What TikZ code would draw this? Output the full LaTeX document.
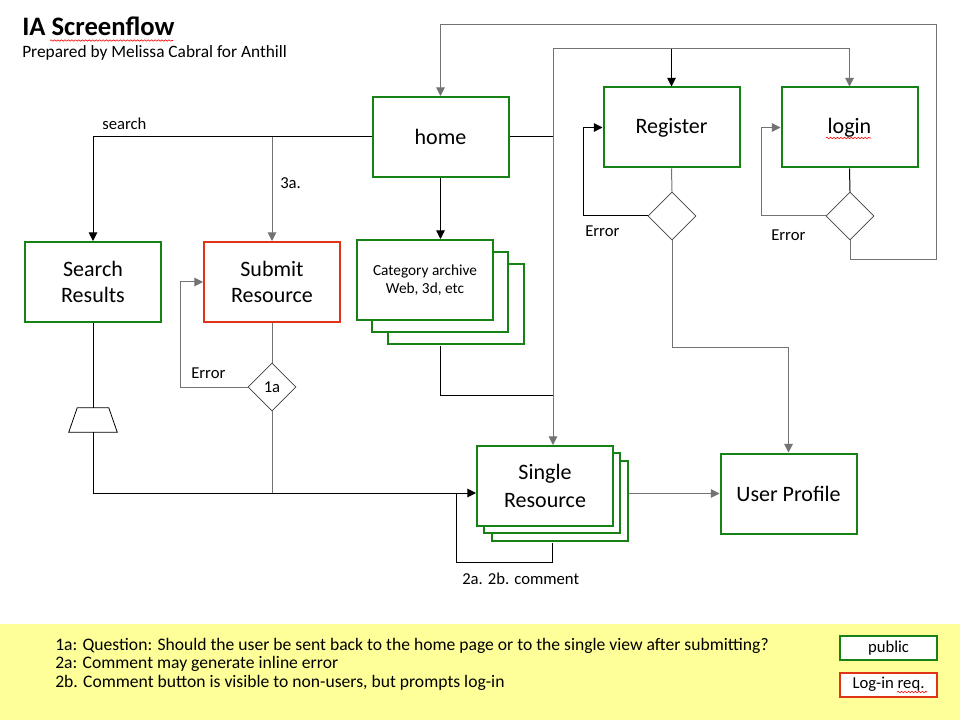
\documentclass[tikz,border=0pt]{standalone}
\usepackage{fontspec}
\setmainfont{Carlito}
\usetikzlibrary{arrows.meta,calc,shapes.geometric,shadows,decorations.pathmorphing}

\definecolor{pagegreen}{RGB}{22,130,22}
\definecolor{loginred}{RGB}{224,52,24}
\definecolor{noteyellow}{RGB}{255,255,153}
\definecolor{linegrey}{RGB}{115,115,115}

\tikzset{
  pagebox/.style={draw=pagegreen, line width=1.5pt, fill=white, minimum width=102pt, minimum height=60pt,
    inner sep=0pt, align=center, font=\fontsize{16.5}{19.5}\selectfont},
  loginbox/.style={pagebox, draw=loginred},
  pagestack/.style 2 args={copy shadow={shadow xshift=2*#1, shadow yshift=-2*#2, opacity=1, fill=white, draw=pagegreen, line width=1.5pt},
    copy shadow={shadow xshift=#1, shadow yshift=-#2, opacity=1, fill=white, draw=pagegreen, line width=1.5pt}},
  decision/.style={diamond, draw=black!75, line width=0.6pt, fill=white, minimum size=36pt, aspect=1, inner sep=0pt,
    font=\fontsize{12.5}{14}\selectfont},
  funnel/.style={minimum width=36pt, minimum height=18pt, inner sep=0pt},
  flow/.style={line width=0.75pt},
  arrow/.style={flow, -{Triangle[length=6.5pt,width=6.5pt]}},
  label/.style={anchor=west, inner sep=0pt, font=\fontsize{12.5}{14}\selectfont},
  note/.style={anchor=base west, inner sep=0pt, font=\fontsize{13.2}{15}\selectfont},
  legend/.style={draw=pagegreen, line width=1.5pt, fill=white, minimum width=72.75pt, minimum height=18pt,
    inner sep=0pt, font=\fontsize{12.5}{14}\selectfont},
  typo/.style={red, line width=0.45pt, decorate, decoration={snake, amplitude=0.5pt, segment length=2.6pt}}
}

\begin{document}
\begin{tikzpicture}[x=0.75pt,y=0.75pt,yscale=-1,xscale=1]
    \useasboundingbox (0,0) rectangle (960,720);

    % Title
    \node[anchor=base west, inner sep=0pt, font=\bfseries\fontsize{20}{24}\selectfont] (title) at (22,36) {IA Screenflow};
    \node[anchor=base west, inner sep=0pt, font=\fontsize{13}{15}\selectfont] (prep) at (22,57.5) {Prepared by Melissa Cabral for Anthill};
    \draw[typo] (50,40.5) -- (173,40.5);

    % Pages
    \node[pagebox] (home) at (440.5,137) {home};
    \node[pagebox] (reg) at (671.5,127.5) {Register};
    \node[pagebox] (login) at (849.5,127.5) {login};
    \draw[typo] (826,138) -- (871,138);
    \node[pagebox] (search) at (93,282) {Search\\Results};
    \node[loginbox] (submit) at (272,282) {Submit\\Resource};
    \node[pagebox, pagestack={11.6pt}{9pt}, font=\fontsize{11.5}{14}\selectfont] (cat) at (425,280) {Category archive\\Web, 3d, etc};
    \node[pagebox, pagestack={5.6pt}{5.6pt}, font=\fontsize{16.5}{21}\selectfont] (single) at (545,486) {Single\\Resource};
    \node[pagebox] (profile) at (788.5,493.5) {User Profile};

    % Decisions
    \node[decision] (dreg) at (672,216) {};
    \node[decision] (dlog) at (850,216) {};
    \node[decision] (dsub) at (272,387) {1a};
    \node[funnel] (filt) at (93,420) {};
    \draw[line width=0.6pt] (filt.south west) -- (filt.south east) -- ($(filt.north east)+(-8.5,0)$)
        -- ($(filt.north west)+(8.5,0)$) -- cycle;

    % Helper points
    \coordinate (jn) at (553,49);
    \coordinate (top) at (936,25);
    \coordinate (catjoin) at (553,395);
    \coordinate (sinpt) at ($(single.west)+(0,7)$);

    % home outgoing
    \draw[arrow] (home.west) -| (search.north);
    \draw[arrow, draw=linegrey] (home.west -| submit.north) -- (submit.north);
    \draw[arrow] (home.south) -- (home.south |- cat.north);
    \draw[flow] (home.east) -| (jn);
    \draw[arrow, draw=linegrey] (jn) -| (login.north);
    \draw[arrow] (jn -| reg.north) -- (reg.north);
    \draw[arrow, draw=linegrey] (jn) -- (jn |- single.north);
    \draw[flow] ($(home.south |- cat.south)+(0,25)$) |- (catjoin);

    % search and submit
    \draw[flow] (search.south) -- (filt.north);
    \draw[arrow] (filt.south) |- (sinpt);
    \draw[flow, draw=linegrey] (submit.south) -- (dsub.north);
    \draw[arrow, draw=linegrey] (dsub.west) -- ++(-67,0) |- (submit.west);
    \draw[flow, draw=linegrey] (dsub.south) -- (dsub.south |- sinpt);

    % single resource
    \draw[flow] ($(single.south -| jn)+(-1,16)$) -- ++(0,19) -| ($(sinpt)+(-20,0)$);
    \draw[arrow, draw=linegrey] ($(single.east |- profile.west)+(15,0)$) -- (profile.west);

    % register and login
    \draw[flow, draw=linegrey] (reg.south) -- (dreg.north);
    \draw[arrow] (dreg.west) -- ++(-64,0) |- (reg.west);
    \draw[arrow, draw=linegrey] (dreg.south) -- ++(0,107) -| (profile.north);
    \draw[flow] (login.south) -- (dlog.north);
    \draw[arrow, draw=linegrey] (dlog.west) -- ++(-64,0) |- (login.west);
    \draw[arrow, draw=linegrey] (dlog.south) -- ++(0,19) -| (top) -| (home.north);

    % Text Node
    \node[label] (lsearch) at (102,124) {search};
    \node[label] (l3a) at (280,183) {3a.};
    \node[label] (lerr1) at (191,373) {Error};
    \node[label] (lerr2) at (585,231) {Error};
    \node[label] (lerr3) at (771,235) {Error};
    \node[label] (lcomment) at (462,579) {2a. 2b. comment};

    % Notes
    \fill[noteyellow] (0,624) rectangle (960,720);
    \node[note] (n1) at (55,650) {1a: Question: Should the user be sent back to the home page or to the single view after submitting?};
    \node[note] (n2) at (55,668.5) {2a: Comment may generate inline error};
    \node[note] (n3) at (55,687) {2b. Comment button is visible to non-users, but prompts log-in};
    \node[legend] (pub) at (888.5,648) {public};
    \node[legend, draw=loginred] (req) at (888.5,684.5) {Log-in req.};
    \draw[typo] (897,692) -- (927,692);

\end{tikzpicture}
\end{document}
